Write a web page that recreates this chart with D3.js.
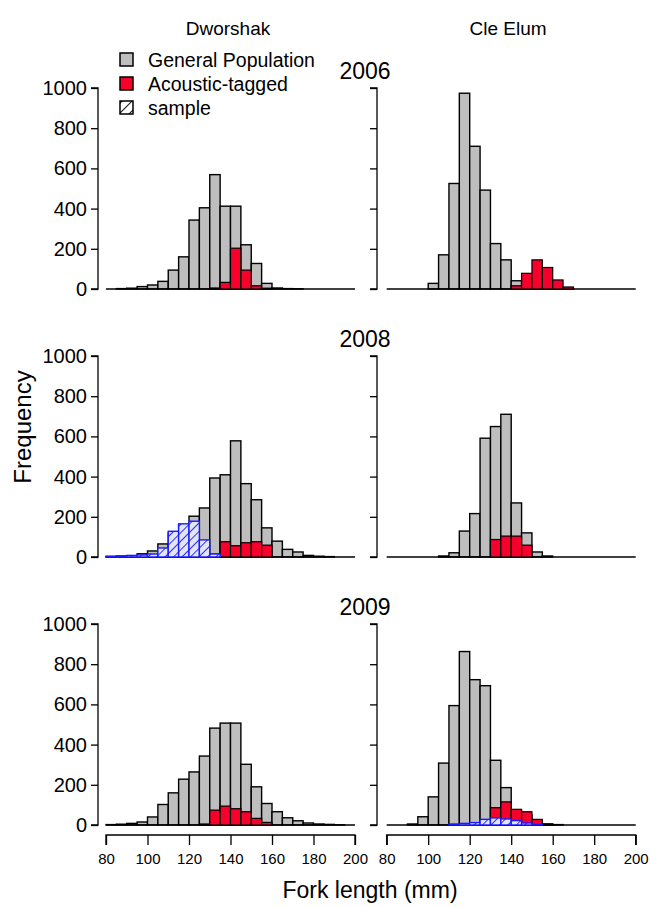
<!DOCTYPE html>
<html>
<head>
<meta charset="utf-8">
<script src="https://cdn.jsdelivr.net/npm/d3@7"></script>
<style>
  html, body { margin: 0; padding: 0; background: #fff; }
  svg { display: block; font-family: "Liberation Sans", Arial, sans-serif; }
</style>
</head>
<body>
<svg id="chart" width="651" height="907"></svg>
<script>
// Fork-length histograms, 5 mm bins from 80 to 200 mm (bin start values)
const binStarts = d3.range(80, 200, 5);
const sites = ["Dworshak", "Cle Elum"];
const years = ["2006", "2008", "2009"];
const yTicks = [0, 200, 400, 600, 800, 1000];
const xTicks = [80, 100, 120, 140, 160, 180, 200];

// Counts per bin (80-85, 85-90, ... 195-200)
const dworshak2006General = [0,2,4,12,20,38,94,160,343,404,569,412,412,220,127,28,5,2,1,0,0,0,0,0];
const dworshak2006Tagged  = [0,0,0,0,0,0,0,0,0,0,5,33,203,94,16,4,0,0,0,0,0,0,0,0];
const dworshak2006Sample  = [];

const cleElum2006General = [0,0,0,0,28,170,525,974,710,492,226,145,41,30,20,10,5,3,0,0,0,0,0,0];
const cleElum2006Tagged  = [0,0,0,0,0,0,0,0,0,0,0,0,16,78,145,107,45,10,0,0,0,0,0,0];
const cleElum2006Sample  = [];

const dworshak2008General = [2,3,5,16,30,65,120,160,203,244,393,409,578,365,285,145,79,38,25,8,4,2,0,0];
const dworshak2008Tagged  = [0,0,0,0,0,0,0,0,0,0,15,76,56,71,76,59,0,0,0,0,0,0,0,0];
const dworshak2008Sample  = [4,6,8,10,15,45,128,165,178,85,15,0,0,0,0,0,0,0,0,0,0,0,0,0];

const cleElum2008General = [0,0,0,0,0,5,21,129,216,591,649,710,269,120,25,5,0,0,0,0,0,0,0,0];
const cleElum2008Tagged  = [0,0,0,0,0,0,0,0,0,0,87,104,104,59,0,0,0,0,0,0,0,0,0,0];
const cleElum2008Sample  = [];

const dworshak2009General = [2,4,8,15,40,102,160,228,264,343,482,507,507,302,190,107,66,36,21,10,5,3,1,0];
const dworshak2009Tagged  = [0,0,0,0,0,0,0,0,0,5,74,94,81,66,33,13,0,0,0,0,0,0,0,0];
const dworshak2009Sample  = [];

const cleElum2009General = [0,0,5,41,140,308,594,863,723,693,322,186,70,50,20,5,2,0,0,0,0,0,0,0];
const cleElum2009Tagged  = [0,0,0,0,0,0,0,0,0,0,86,115,78,66,28,5,0,0,0,0,0,0,0,0];
const cleElum2009Sample  = [0,0,0,0,0,0,5,8,12,28,35,30,22,10,3,0,0,0,0,0,0,0,0,0];

const panels = [
  { row: 0, col: 0, general: dworshak2006General, tagged: dworshak2006Tagged, sample: dworshak2006Sample },
  { row: 0, col: 1, general: cleElum2006General, tagged: cleElum2006Tagged, sample: cleElum2006Sample },
  { row: 1, col: 0, general: dworshak2008General, tagged: dworshak2008Tagged, sample: dworshak2008Sample },
  { row: 1, col: 1, general: cleElum2008General, tagged: cleElum2008Tagged, sample: cleElum2008Sample },
  { row: 2, col: 0, general: dworshak2009General, tagged: dworshak2009Tagged, sample: dworshak2009Sample },
  { row: 2, col: 1, general: cleElum2009General, tagged: cleElum2009Tagged, sample: cleElum2009Sample }
];

const GRAY = "#bebebe", RED = "#f8002c", BLUE = "#1a1aff";
const svg = d3.select("#chart");

// hatch patterns: blue for the sample bars, black for its legend key
const defs = svg.append("defs");
function hatch(id, color, bg, size) {
  const p = defs.append("pattern").attr("id", id)
    .attr("patternUnits", "userSpaceOnUse").attr("width", size).attr("height", size)
    .attr("patternTransform", "rotate(45)");
  p.append("rect").attr("width", size).attr("height", size).attr("fill", bg);
  p.append("line").attr("x1", 0).attr("y1", 0).attr("x2", 0).attr("y2", size)
    .attr("stroke", color).attr("stroke-width", 1.8);
}
hatch("hatchBlue", BLUE, "#e2e5f6", 6);
hatch("hatchBlack", "#000", "#fff", 7);

const colRange = [[106, 355], [386.7, 635.7]];
const rowBase = [289, 557, 825];
const rowH = 201;

panels.forEach(p => {
  const x = d3.scaleLinear().domain([80, 200]).range(colRange[p.col]);
  const y = d3.scaleLinear().domain([0, 1000]).range([rowBase[p.row], rowBase[p.row] - rowH]);
  const g = svg.append("g");

  function bars(values, fill, stroke, sw) {
    g.append("g").selectAll("rect")
      .data(values.map((v, i) => ({ start: binStarts[i], v })).filter(d => d.v > 0))
      .join("rect")
      .attr("x", d => x(d.start))
      .attr("width", d => x(d.start + 5) - x(d.start))
      .attr("y", d => y(d.v))
      .attr("height", d => y(0) - y(d.v))
      .attr("fill", fill)
      .attr("stroke", stroke)
      .attr("stroke-width", sw);
  }
  bars(p.general, GRAY, "#000", 1.4);
  // empty bins still show as a line along zero
  g.append("line").attr("x1", x(80)).attr("x2", x(200)).attr("y1", y(0)).attr("y2", y(0))
    .attr("stroke", "#000").attr("stroke-width", 1.4);
  if (p.tagged.length) bars(p.tagged, RED, "#000", 1.2);
  if (p.sample.length) bars(p.sample, "url(#hatchBlue)", BLUE, 1.4);

  // y axis with outward ticks, labels only on the left column
  const yAxis = d3.axisLeft(y).tickValues(yTicks).tickSize(7).tickPadding(4)
    .tickFormat(p.col === 0 ? d3.format("d") : () => "");
  const ax = svg.append("g")
    .attr("transform", `translate(${p.col === 0 ? 98 : 377},0)`)
    .call(yAxis);
  ax.select(".domain").attr("d", `M-7,${y(1000)}H0V${y(0)}H-7`).attr("stroke-width", 1.3);
  ax.selectAll(".tick line").attr("stroke-width", 1.3);
  ax.selectAll(".tick text").attr("font-size", 20).attr("fill", "#000");

  // x axis on the bottom row only
  if (p.row === 2) {
    const xa = svg.append("g").attr("transform", "translate(0,835)")
      .call(d3.axisBottom(x).tickValues(xTicks).tickSize(10).tickPadding(8).tickFormat(d3.format("d")));
    xa.select(".domain").attr("d", `M${x(80)},10V0H${x(200)}V10`).attr("stroke-width", 1.3);
    xa.selectAll(".tick line").attr("stroke-width", 1.3);
    xa.selectAll(".tick text").attr("font-size", 15).attr("fill", "#000");
  }
});

// column and year titles
svg.selectAll(".site").data(sites).join("text")
  .attr("x", (d, i) => [228, 508][i]).attr("y", 35)
  .attr("text-anchor", "middle").attr("font-size", 19).text(d => d);
svg.selectAll(".year").data(years).join("text")
  .attr("x", 365).attr("y", (d, i) => [79, 347, 615][i])
  .attr("text-anchor", "middle").attr("font-size", 23).text(d => d);

// axis titles
svg.append("text").attr("transform", "translate(31,427) rotate(-90)")
  .attr("text-anchor", "middle").attr("font-size", 24).text("Frequency");
svg.append("text").attr("x", 370).attr("y", 898)
  .attr("text-anchor", "middle").attr("font-size", 23).text("Fork length (mm)");

// legend
const legendItems = [
  { label: "General Population", fill: GRAY },
  { label: "Acoustic-tagged", fill: RED },
  { label: "sample", fill: "url(#hatchBlack)" }
];
const lg = svg.append("g").attr("transform", "translate(120,53)");
lg.selectAll("rect").data(legendItems).join("rect")
  .attr("x", 0).attr("y", (d, i) => i * 24)
  .attr("width", 13).attr("height", 13)
  .attr("fill", d => d.fill).attr("stroke", "#000").attr("stroke-width", 1.5);
lg.selectAll("text").data(legendItems).join("text")
  .attr("x", 28).attr("y", (d, i) => i * 24 + 13.5)
  .attr("font-size", 19.5).text(d => d.label);
</script>
</body>
</html>
